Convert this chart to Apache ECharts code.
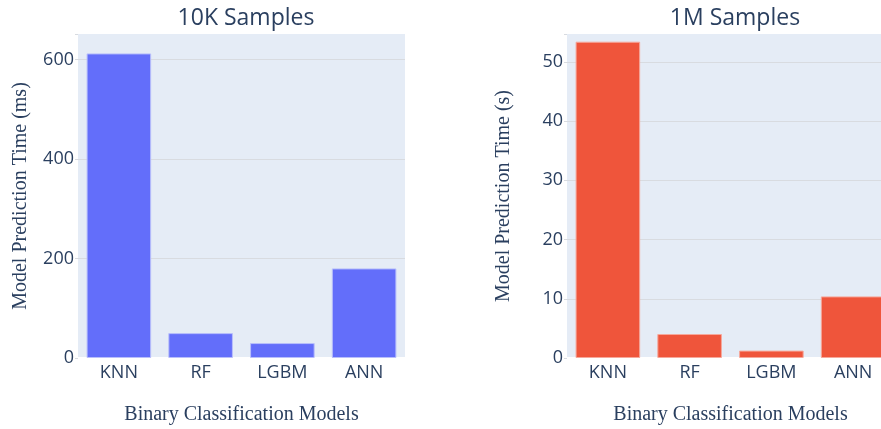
<!DOCTYPE html>
<html>
<head>
<meta charset="utf-8">
<script src="https://cdn.jsdelivr.net/npm/echarts@6/dist/echarts.min.js"></script>
<style>
  html, body { margin: 0; padding: 0; background: #fff; }
  #chart { width: 881px; height: 429px; }
</style>
</head>
<body>
<div id="chart"></div>
<script>
// data
const models = ['KNN', 'RF', 'LGBM', 'ANN'];
const time10k = [612, 50, 30, 180];      // ms
const time1m = [53.4, 4.05, 1.25, 10.4]; // s

const titleColor = '#2a3f5f';
const font = '"Open Sans", "Noto Sans", sans-serif';
const serif = '"Liberation Serif", "DejaVu Serif", serif';
const bg = '#e5ecf6';
const gridColor = '#d8dbe0';

const chart = echarts.init(document.getElementById('chart'));

const xAxisFor = (gridIndex) => ({
  type: 'category',
  gridIndex,
  data: models,
  name: 'Binary Classification Models',
  nameLocation: 'middle',
  nameGap: 47,
  nameTextStyle: { fontFamily: serif, fontSize: 20, color: titleColor },
  axisLine: { show: true, lineStyle: { color: '#fff', width: 2 } },
  axisTick: { show: false },
  axisLabel: { fontFamily: font, fontSize: 18, color: titleColor, margin: 6 }
});

// last split line sits on the top edge (the max), so paint it in the background colour
const yAxisFor = (gridIndex, max, interval, name, nameGap) => {
  const n = Math.floor(max / interval) + 1;
  const colors = Array(n).fill(gridColor).concat([bg]);
  return {
    type: 'value',
    gridIndex,
    min: 0,
    max,
    interval,
    name,
    nameLocation: 'middle',
    nameGap,
    nameTextStyle: { fontFamily: serif, fontSize: 20, color: titleColor },
    axisLine: { show: false },
    axisTick: { show: true, length: 3, lineStyle: { color: gridColor } },
    axisLabel: {
      fontFamily: font, fontSize: 18, color: titleColor, margin: 4,
      formatter: (v) => (v % interval === 0 ? String(v) : '')
    },
    splitLine: { show: true, lineStyle: { color: colors, width: 1 } }
  };
};

chart.setOption({
  animation: false,
  title: [
    {
      text: '10K Samples', left: 241, top: 2, textAlign: 'center',
      textStyle: { fontFamily: font, fontSize: 23, fontWeight: 'normal', color: titleColor }
    },
    {
      text: '1M Samples', left: 730, top: 2, textAlign: 'center',
      textStyle: { fontFamily: font, fontSize: 23, fontWeight: 'normal', color: titleColor }
    }
  ],
  grid: [
    { left: 78, width: 327, top: 34, bottom: 71, show: true, backgroundColor: bg, borderWidth: 0, outerBoundsMode: 'none' },
    { left: 567, width: 327, top: 34, bottom: 71, show: true, backgroundColor: bg, borderWidth: 0, outerBoundsMode: 'none' }
  ],
  xAxis: [xAxisFor(0), xAxisFor(1)],
  yAxis: [
    yAxisFor(0, 651, 200, 'Model Prediction Time (ms)', 47),
    yAxisFor(1, 54.7, 10, 'Model Prediction Time (s)', 53)
  ],
  series: [
    {
      type: 'bar', xAxisIndex: 0, yAxisIndex: 0, data: time10k,
      barCategoryGap: '21%',
      itemStyle: { color: '#636efa', borderColor: '#b9bffb', borderWidth: 1 }
    },
    {
      type: 'bar', xAxisIndex: 1, yAxisIndex: 1, data: time1m,
      barCategoryGap: '21%',
      itemStyle: { color: '#ef553b', borderColor: '#f6a89b', borderWidth: 1 }
    }
  ]
});
</script>
</body>
</html>
